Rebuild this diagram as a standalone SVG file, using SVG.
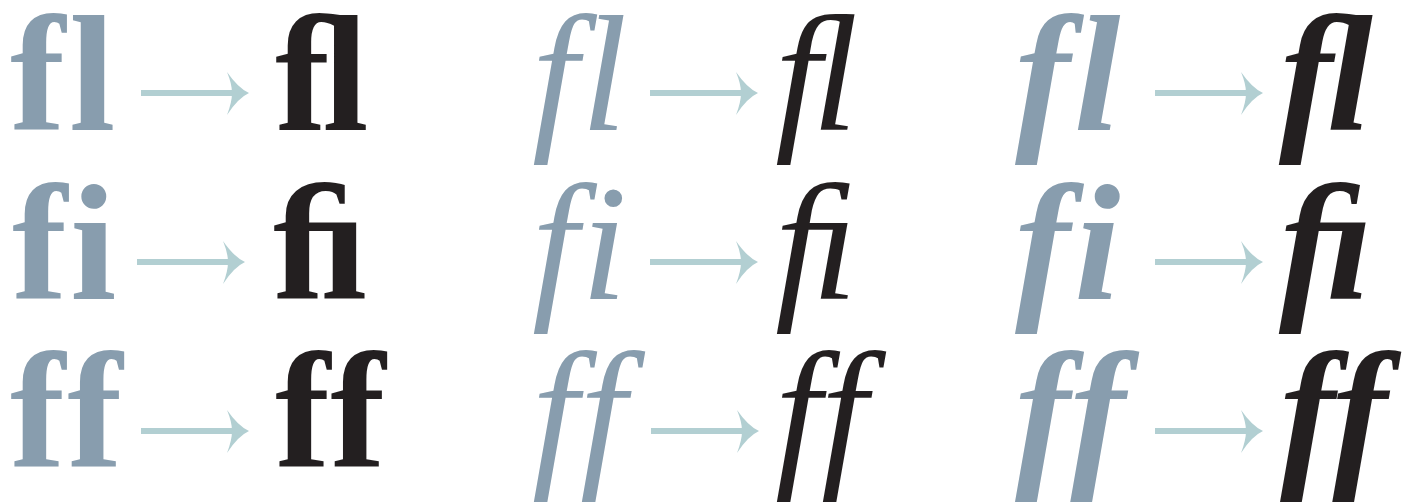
<svg xmlns="http://www.w3.org/2000/svg" width="1402" height="504" viewBox="0 0 1402 504">
<style>
.src{fill:#889dae;font-variant-ligatures:none;font-feature-settings:"liga" 0;}
.lig{fill:#231f20;}
.r{font-family:"Liberation Serif",serif;font-weight:bold;font-size:166px;}
.i{font-family:"Liberation Serif",serif;font-style:italic;font-size:166px;}
.bi{font-family:"Liberation Serif",serif;font-style:italic;font-weight:bold;font-size:166px;}
.arr{fill:#b2cfd2;}
</style>
<defs>
<g id="arrow">
<rect x="0" y="-3" width="96" height="6"/>
<path d="M86,-21 Q97,-5 108,0 Q97,5 86,22 Q91,9 91,0 Q91,-9 86,-21 Z"/>
</g>
</defs>
<rect width="1402" height="504" fill="#fff"/>
<g id="connectors" class="arr">
<use href="#arrow" x="141" y="93"/>
<use href="#arrow" x="650" y="93"/>
<use href="#arrow" x="1155" y="93"/>
<use href="#arrow" x="137" y="262"/>
<use href="#arrow" x="650" y="262"/>
<use href="#arrow" x="1155" y="262"/>
<use href="#arrow" x="141" y="431"/>
<use href="#arrow" x="651" y="431"/>
<use href="#arrow" x="1155" y="431"/>
</g>
<g id="col-roman">
<g id="fl-roman-src"><text class="r src" x="10" y="130" letter-spacing="4">fl</text></g>
<g id="fl-roman-lig"><text class="r lig" x="275" y="130">ﬂ</text></g>
<g id="fi-roman-src"><text class="r src" x="12" y="299" letter-spacing="3">fi</text></g>
<g id="fi-roman-lig"><text class="r lig" x="273" y="299">ﬁ</text></g>
<g id="ff-roman-src"><text class="r src" x="10" y="467" letter-spacing="2">ff</text></g>
<g id="ff-roman-lig"><text class="r lig" x="275" y="467">ff</text></g>
</g>
<g id="col-italic">
<g id="fl-italic-src"><text class="i src" x="532" y="130" letter-spacing="3">fl</text></g>
<g id="fl-italic-lig"><text class="i lig" x="775" y="130">ﬂ</text></g>
<g id="fi-italic-src"><text class="i src" x="532" y="299" letter-spacing="3">fi</text></g>
<g id="fi-italic-lig"><text class="i lig" x="775" y="299">ﬁ</text></g>
<g id="ff-italic-src"><text class="i src" x="532" y="467" letter-spacing="2">ff</text></g>
<g id="ff-italic-lig"><text class="i lig" x="775" y="467">ff</text></g>
</g>
<g id="col-bold-italic">
<g id="fl-bi-src"><text class="bi src" x="1015" y="130" letter-spacing="4">fl</text></g>
<g id="fl-bi-lig"><text class="bi lig" x="1280" y="130">ﬂ</text></g>
<g id="fi-bi-src"><text class="bi src" x="1015" y="299" letter-spacing="4">fi</text></g>
<g id="fi-bi-lig"><text class="bi lig" x="1280" y="299">ﬁ</text></g>
<g id="ff-bi-src"><text class="bi src" x="1015" y="467" letter-spacing="3">ff</text></g>
<g id="ff-bi-lig"><text class="bi lig" x="1280" y="467">ff</text></g>
</g>
</svg>
